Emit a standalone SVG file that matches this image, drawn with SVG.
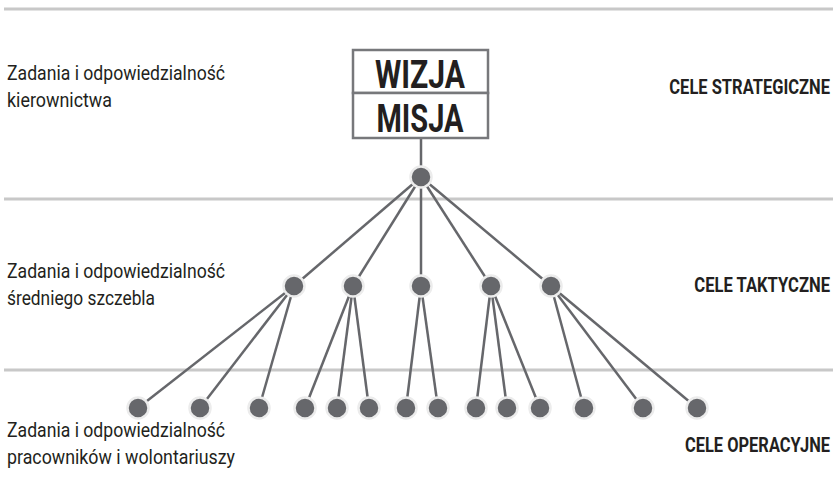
<svg xmlns="http://www.w3.org/2000/svg" width="837" height="497" viewBox="0 0 837 497">
<style>
.band{stroke:#c8c8c8;stroke-width:3}
.edge{stroke:#66676b;stroke-width:2.5;fill:none}
.dot{fill:#66676b;stroke:#ececec;stroke-width:2.5}
.lbl{font-family:Roboto,"Liberation Sans",sans-serif;font-size:20px;fill:#231f20}
.lvl{font-family:Roboto,"Liberation Sans",sans-serif;font-size:21px;font-weight:bold;fill:#231f20;text-anchor:end}
.box{fill:#fff;stroke:#77787b;stroke-width:2.5}
.big{font-family:Roboto,"Liberation Sans",sans-serif;font-size:38px;font-weight:bold;fill:#231f20;text-anchor:middle}
</style>
<rect width="837" height="497" fill="#fff"/>
<g id="bands">
<line class="band" x1="4" y1="9" x2="833" y2="9"/>
<line class="band" x1="4" y1="199" x2="833" y2="199"/>
<line class="band" x1="4" y1="370" x2="833" y2="370"/>
</g>
<g id="connectors">
<line class="edge" x1="421" y1="138" x2="421" y2="177"/>
<line class="edge" x1="421" y1="177" x2="294" y2="286"/>
<line class="edge" x1="421" y1="177" x2="353" y2="286"/>
<line class="edge" x1="421" y1="177" x2="421" y2="286"/>
<line class="edge" x1="421" y1="177" x2="491" y2="286"/>
<line class="edge" x1="421" y1="177" x2="551" y2="286"/>
<line class="edge" x1="294" y1="286" x2="138" y2="408"/>
<line class="edge" x1="294" y1="286" x2="200" y2="408"/>
<line class="edge" x1="294" y1="286" x2="259" y2="408"/>
<line class="edge" x1="353" y1="286" x2="305" y2="408"/>
<line class="edge" x1="353" y1="286" x2="337" y2="408"/>
<line class="edge" x1="353" y1="286" x2="369" y2="408"/>
<line class="edge" x1="421" y1="286" x2="406" y2="408"/>
<line class="edge" x1="421" y1="286" x2="438" y2="408"/>
<line class="edge" x1="491" y1="286" x2="476" y2="408"/>
<line class="edge" x1="491" y1="286" x2="507" y2="408"/>
<line class="edge" x1="491" y1="286" x2="540" y2="408"/>
<line class="edge" x1="551" y1="286" x2="584" y2="408"/>
<line class="edge" x1="551" y1="286" x2="643" y2="408"/>
<line class="edge" x1="551" y1="286" x2="697" y2="408"/>
</g>
<g id="wizja-misja">
<rect class="box" x="353" y="50" width="135" height="43"/>
<rect class="box" x="353" y="93" width="135" height="45"/>
<text class="big" x="420" y="88" textLength="90" lengthAdjust="spacingAndGlyphs">WIZJA</text>
<text class="big" x="420" y="132" textLength="87" lengthAdjust="spacingAndGlyphs">MISJA</text>
</g>
<g id="top-node"><circle class="dot" cx="421" cy="177" r="10.5"/></g>
<g id="mid-nodes">
<circle class="dot" cx="294" cy="286" r="10.5"/>
<circle class="dot" cx="353" cy="286" r="10.5"/>
<circle class="dot" cx="421" cy="286" r="10.5"/>
<circle class="dot" cx="491" cy="286" r="10.5"/>
<circle class="dot" cx="551" cy="286" r="10.5"/>
</g>
<g id="bottom-nodes">
<circle class="dot" cx="138" cy="408" r="10.5"/>
<circle class="dot" cx="200" cy="408" r="10.5"/>
<circle class="dot" cx="259" cy="408" r="10.5"/>
<circle class="dot" cx="305" cy="408" r="10.5"/>
<circle class="dot" cx="337" cy="408" r="10.5"/>
<circle class="dot" cx="369" cy="408" r="10.5"/>
<circle class="dot" cx="406" cy="408" r="10.5"/>
<circle class="dot" cx="438" cy="408" r="10.5"/>
<circle class="dot" cx="476" cy="408" r="10.5"/>
<circle class="dot" cx="507" cy="408" r="10.5"/>
<circle class="dot" cx="540" cy="408" r="10.5"/>
<circle class="dot" cx="584" cy="408" r="10.5"/>
<circle class="dot" cx="643" cy="408" r="10.5"/>
<circle class="dot" cx="697" cy="408" r="10.5"/>
</g>
<g id="labels-left">
<text class="lbl" x="7" y="80" textLength="218" lengthAdjust="spacingAndGlyphs">Zadania i odpowiedzialność</text>
<text class="lbl" x="7" y="107" textLength="105" lengthAdjust="spacingAndGlyphs">kierownictwa</text>
<text class="lbl" x="7" y="278" textLength="218" lengthAdjust="spacingAndGlyphs">Zadania i odpowiedzialność</text>
<text class="lbl" x="7" y="305" textLength="148" lengthAdjust="spacingAndGlyphs">średniego szczebla</text>
<text class="lbl" x="7" y="437" textLength="218" lengthAdjust="spacingAndGlyphs">Zadania i odpowiedzialność</text>
<text class="lbl" x="7" y="464" textLength="228" lengthAdjust="spacingAndGlyphs">pracowników i wolontariuszy</text>
</g>
<g id="labels-right">
<text class="lvl" transform="matrix(0.78 0 0 1 830 94)" x="0" y="0" textLength="206" lengthAdjust="spacingAndGlyphs">CELE STRATEGICZNE</text>
<text class="lvl" transform="matrix(0.78 0 0 1 830 292)" x="0" y="0" textLength="174" lengthAdjust="spacingAndGlyphs">CELE TAKTYCZNE</text>
<text class="lvl" transform="matrix(0.78 0 0 1 830 452)" x="0" y="0" textLength="186" lengthAdjust="spacingAndGlyphs">CELE OPERACYJNE</text>
</g>
</svg>
